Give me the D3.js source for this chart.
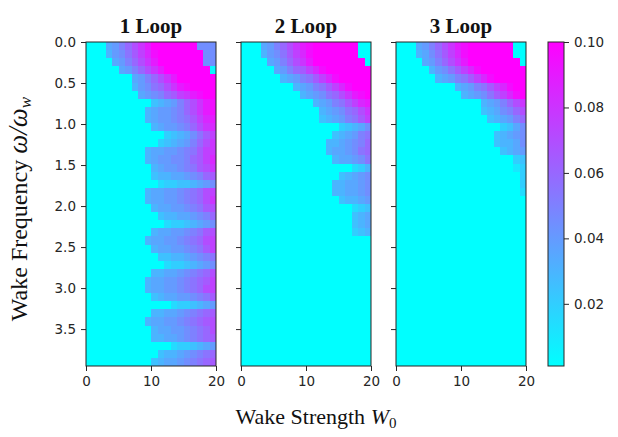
<!DOCTYPE html>
<html>
<head>
<meta charset="utf-8">
<script src="https://cdn.jsdelivr.net/npm/d3@7"></script>
<style>
  body { margin: 0; background: #fff; }
  .tick text { font-family: "DejaVu Sans", sans-serif; font-size: 13.5px; fill: #262626; }
  .tick line { stroke: #262626; }
  .lbl { font-family: "Liberation Serif", "Times New Roman", serif; fill: #111; }
</style>
</head>
<body>
<div id="chart"></div>
<script>
const width = 618;
const height = 437;

const titles = ["1 Loop", "2 Loop", "3 Loop"];
// left edge of each W0 column, and top edge of each frequency row
const wakeStrength = [0, 1, 2, 3, 4, 5, 6, 7, 8, 9, 10, 11, 12, 13, 14, 15, 16, 17, 18, 19];
const omega = [0.0, 0.1, 0.2, 0.3, 0.4, 0.5, 0.6, 0.7, 0.8, 0.9,
               1.0, 1.1, 1.2, 1.3, 1.4, 1.5, 1.6, 1.7, 1.8, 1.9,
               2.0, 2.1, 2.2, 2.3, 2.4, 2.5, 2.6, 2.7, 2.8, 2.9,
               3.0, 3.1, 3.2, 3.3, 3.4, 3.5, 3.6, 3.7, 3.8, 3.9];
const yTicks = [0, 0.5, 1, 1.5, 2, 2.5, 3, 3.5];
const xTicks = [0, 10, 20];
const cbTicks = [0.02, 0.04, 0.06, 0.08, 0.10];

// one character per cell, each step = 0.005 ("0" = 0, "k" = 0.100)
const LEVELS = "0123456789abcdefghijk";

const loop1 = [
  "00078acegikkkkkkk999",
  "000689bdfhjkkkkkkk99",
  "000078acegikkkkkkk99",
  "0000078acegikkkkkkk1",
  "000000078acegikkkkkk",
  "0000000689bcegijkkkk",
  "00000000789acdfgijkk",
  "00000000005678acegij",
  "00000000067889acegij",
  "00000000067889abdfhi",
  "000000000067889acegh",
  "00000000000045679bdf",
  "0000000000045678aceg",
  "000000000677889abdfg",
  "000000000678899acdfh",
  "000000000067889abdeg",
  "00000000005667789acd",
  "00000000000344556789",
  "000000000677889abcef",
  "000000000677889abceg",
  "0000000000677889abde",
  "000000000005667789ac",
  "00000000000034456789",
  "0000000000677889abde",
  "000000000677889abcef",
  "0000000000677889abdf",
  "000000000005566789ab",
  "00000000000034456789",
  "0000000000667789abce",
  "000000000677889abcdf",
  "000000000677889abcef",
  "00000000005677889abd",
  "00000000000003445678",
  "0000000000667789abcd",
  "000000000677889abcde",
  "0000000000677889abce",
  "0000000000667789abcd",
  "00000000000003445678",
  "00000000000566789abc",
  "0000000000567789abcd"
];

const loop2 = [
  "00078acegijkkkkkkk00",
  "000689bdfhjkkkkkkk00",
  "000078acegikkkkkkkk0",
  "0000078acdfhjkkkkkkk",
  "000000678abdfhjkkkkk",
  "00000000678abdfhjkkk",
  "0000000006789bcegijk",
  "00000000000678abdfhi",
  "0000000000006789bceg",
  "0000000000005678abdf",
  "00000000000000045679",
  "000000000000005678ab",
  "000000000000066789ac",
  "000000000000067789bc",
  "0000000000000067789b",
  "00000000000000000346",
  "00000000000000056789",
  "00000000000000667789",
  "00000000000000667789",
  "00000000000000056678",
  "00000000000000000345",
  "00000000000000000567",
  "00000000000000000567",
  "00000000000000000456",
  "00000000000000000000",
  "00000000000000000000",
  "00000000000000000000",
  "00000000000000000000",
  "00000000000000000000",
  "00000000000000000000",
  "00000000000000000000",
  "00000000000000000000",
  "00000000000000000000",
  "00000000000000000000",
  "00000000000000000000",
  "00000000000000000000",
  "00000000000000000000",
  "00000000000000000000",
  "00000000000000000000",
  "00000000000000000000"
];

const loop3 = [
  "00078acegijkkkkkkk00",
  "000679bdfhjkkkkkkk00",
  "000078acegikkkkkkkk0",
  "00000689bdfhjkkkkkkk",
  "000000678abdfhjkkkkk",
  "000000000678abdfhjkk",
  "00000000006789bdfhjk",
  "0000000000000678aceg",
  "00000000000005679ace",
  "000000000000005678ac",
  "00000000000000004579",
  "00000000000000056789",
  "00000000000000056679",
  "00000000000000005678",
  "00000000000000000045",
  "00000000000000000024",
  "00000000000000000004",
  "00000000000000000004",
  "00000000000000000003",
  "00000000000000000000",
  "00000000000000000000",
  "00000000000000000000",
  "00000000000000000000",
  "00000000000000000000",
  "00000000000000000000",
  "00000000000000000000",
  "00000000000000000000",
  "00000000000000000000",
  "00000000000000000000",
  "00000000000000000000",
  "00000000000000000000",
  "00000000000000000000",
  "00000000000000000000",
  "00000000000000000000",
  "00000000000000000000",
  "00000000000000000000",
  "00000000000000000000",
  "00000000000000000000",
  "00000000000000000000",
  "00000000000000000000"
];

const grids = [loop1, loop2, loop3];

/* layout */
const plotTop = 42;
const plotH = 324;
const panelW = 130;
const panelX = [86, 241, 396];
const cbX = 548;
const cbW = 16;

const svg = d3.select("#chart")
    .append("svg")
    .attr("width", width)
    .attr("height", height);

const x = d3.scaleLinear().domain([0, 20]).range([0, panelW]);
const y = d3.scaleLinear().domain([0, 3.95]).range([0, plotH]);
const row = d3.scaleBand().domain(omega).range([0, plotH]);
const color = d3.scaleLinear()
    .domain([0.001, 0.1])
    .range(["#00ffff", "#ff00ff"])
    .clamp(true);

grids.forEach((grid, p) => {
    const g = svg.append("g").attr("transform", `translate(${panelX[p]},${plotTop})`);

    const cells = [];
    grid.forEach((s, r) => {
        Array.from(s).forEach((ch, c) => {
            cells.push({ w: wakeStrength[c], o: omega[r], v: LEVELS.indexOf(ch) * 0.005 });
        });
    });

    // clip so the small cell overlap does not spill past the frame
    g.append("clipPath").attr("id", "clip" + p)
        .append("rect").attr("width", panelW).attr("height", plotH);

    g.append("g")
        .attr("clip-path", `url(#clip${p})`)
        .selectAll("rect")
        .data(cells)
        .enter()
        .append("rect")
        .attr("shape-rendering", "crispEdges")
        .attr("x", d => x(d.w))
        .attr("y", d => row(d.o))
        .attr("width", d => x(d.w + 1) - x(d.w) + 1)
        .attr("height", row.bandwidth() + 1)
        .attr("fill", d => color(d.v));

    const yAxis = d3.axisLeft(y)
        .tickValues(yTicks)
        .tickSize(5)
        .tickSizeOuter(0)
        .tickPadding(5)
        .tickFormat(p === 0 ? d3.format(".1f") : () => "");
    g.append("g").call(yAxis).call(a => a.select(".domain").remove());

    const xAxis = d3.axisBottom(x)
        .tickValues(xTicks)
        .tickSize(5)
        .tickSizeOuter(0)
        .tickPadding(5);
    g.append("g")
        .attr("transform", `translate(0,${plotH})`)
        .call(xAxis)
        .call(a => a.select(".domain").remove());

    g.append("rect")
        .attr("width", panelW)
        .attr("height", plotH)
        .attr("fill", "none")
        .attr("stroke", "#262626")
        .attr("stroke-width", 1);

    g.append("text")
        .attr("class", "lbl")
        .attr("x", panelW / 2)
        .attr("y", -9)
        .attr("text-anchor", "middle")
        .attr("font-weight", "bold")
        .attr("font-size", 21)
        .text(titles[p]);
});

/* colorbar */
const cb = d3.scaleLinear().domain([0.001, 0.1]).range([plotH, 0]);
const grad = svg.append("defs").append("linearGradient")
    .attr("id", "cbgrad")
    .attr("x1", 0).attr("y1", 1).attr("x2", 0).attr("y2", 0);
grad.append("stop").attr("offset", "0%").attr("stop-color", color(0.001));
grad.append("stop").attr("offset", "100%").attr("stop-color", color(0.1));

const cg = svg.append("g").attr("transform", `translate(${cbX},${plotTop})`);
cg.append("rect")
    .attr("width", cbW)
    .attr("height", plotH)
    .attr("fill", "url(#cbgrad)")
    .attr("stroke", "#262626");
cg.append("g")
    .attr("transform", `translate(${cbW},0)`)
    .call(d3.axisRight(cb).tickValues(cbTicks).tickSize(5).tickSizeOuter(0).tickPadding(5).tickFormat(d3.format(".2f")))
    .call(a => a.select(".domain").remove());

/* axis titles */
const yl = svg.append("text")
    .attr("class", "lbl")
    .attr("font-size", 24)
    .attr("text-anchor", "middle")
    .attr("transform", `translate(27,209) rotate(-90)`);
yl.append("tspan").text("Wake Frequency ");
yl.append("tspan").attr("font-style", "italic").attr("font-size", 27).text("ω/ω");
yl.append("tspan").attr("font-style", "italic").attr("font-size", 17).attr("dy", 4).text("w");

const xl = svg.append("text")
    .attr("class", "lbl")
    .attr("font-size", 22)
    .attr("text-anchor", "middle")
    .attr("x", 316)
    .attr("y", 424);
xl.append("tspan").text("Wake Strength ");
xl.append("tspan").attr("font-style", "italic").text("W");
xl.append("tspan").attr("font-size", 15).attr("dy", 4).text("0");
</script>
</body>
</html>
